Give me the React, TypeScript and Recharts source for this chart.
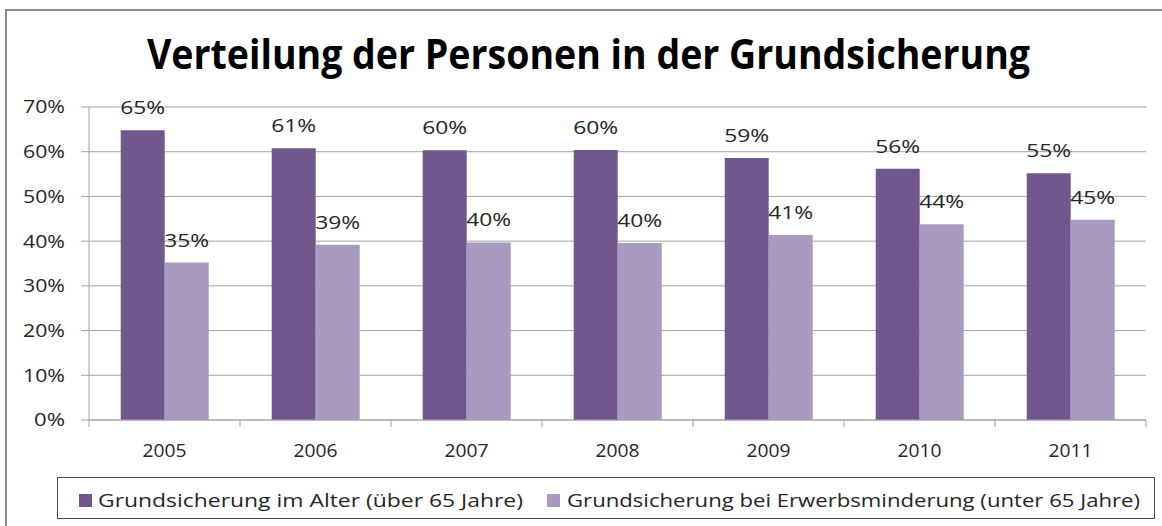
import React from 'react';
import { BarChart, Bar, XAxis, YAxis, CartesianGrid, LabelList, Legend } from 'recharts';

const title = 'Verteilung der Personen in der Grundsicherung';
const years = ['2005', '2006', '2007', '2008', '2009', '2010', '2011'];
const alterValues = [64.8, 60.8, 60.3, 60.4, 58.6, 56.2, 55.2];
const erwerbValues = [35.2, 39.2, 39.7, 39.6, 41.4, 43.8, 44.8];
const seriesNames = [
  'Grundsicherung im Alter (über 65 Jahre)',
  'Grundsicherung bei Erwerbsminderung (unter 65 Jahre)',
];
const yTicks = [0, 10, 20, 30, 40, 50, 60, 70];

const colors = ['#70588F', '#A99BC0'];
const FONT = '"Open Sans", "Noto Sans", sans-serif';
const TEXT = '#262626';
const GRID = '#a3a3a3';
const X_TICK_SIZE = 7;
const X_TICK_MARGIN = 17;

const data = years.map((y, i) => ({ year: y, alter: alterValues[i], erwerb: erwerbValues[i] }));

const charWidth = (s: string, digit: number, pct: number) =>
  s.split('').reduce((a, c) => a + (c === '%' ? pct : digit), 0);

const YTick = (props: any) => {
  const { x, y, payload } = props;
  const s = `${payload.value}%`;
  return (
    <text x={x} y={y} dy="0.36em" textAnchor="end" fontFamily={FONT} fontSize={18} fill={TEXT}
      textLength={charWidth(s, 11, 20)} lengthAdjust="spacingAndGlyphs">
      {s}
    </text>
  );
};

const XTick = (props: any) => {
  const { x, y, payload } = props;
  const s = String(payload.value);
  const half = payload.offset || 0;
  const axisY = y - X_TICK_SIZE - X_TICK_MARGIN;
  const isLast = payload.index === years.length - 1;
  return (
    <g>
      <line x1={x - half} x2={x - half} y1={axisY} y2={axisY + X_TICK_SIZE} stroke={GRID} />
      {isLast && (
        <line x1={x + half} x2={x + half} y1={axisY} y2={axisY + X_TICK_SIZE} stroke={GRID} />
      )}
      <text x={x} y={y} dy="0.71em" textAnchor="middle" fontFamily={FONT} fontSize={18} fill={TEXT}
        textLength={charWidth(s, 11, 20)} lengthAdjust="spacingAndGlyphs">
        {s}
      </text>
    </g>
  );
};

const BarLabel = (props: any) => {
  const { x, y, width, value } = props;
  const s = `${Math.round(value)}%`;
  return (
    <text x={x + width / 2} y={y - 16} textAnchor="middle" fontFamily={FONT} fontSize={18} fill={TEXT}
      textLength={charWidth(s, 11.5, 22)} lengthAdjust="spacingAndGlyphs">
      {s}
    </text>
  );
};

const legendLayout = [
  { sq: 22, tx: 41, len: 425 },
  { sq: 490, tx: 510, len: 573 },
];

const renderLegend = () => (
  <svg width={1098} height={42} style={{ display: 'block' }}>
    <rect x={0.5} y={0.5} width={1097} height={41} fill="#fff" stroke="#4a4a4a" strokeWidth={1} />
    {seriesNames.map((name, i) => (
      <g key={name}>
        <rect x={legendLayout[i].sq} y={17} width={13} height={13} fill={colors[i]} />
        <text x={legendLayout[i].tx} y={30} fontFamily={FONT} fontSize={17.5} fill={TEXT}
          textLength={legendLayout[i].len} lengthAdjust="spacingAndGlyphs">
          {name}
        </text>
      </g>
    ))}
  </svg>
);

export default function App() {
  return (
    <div style={{ position: 'absolute', left: 0, top: 0, width: 1162, height: 526, overflow: 'hidden', background: '#fff' }}>
      <div style={{
        position: 'absolute', left: 5, top: 9, width: 1200, height: 600,
        borderTop: '2px solid #8a8a8a', borderLeft: '2px solid #8a8a8a', boxSizing: 'border-box',
      }} />
      <svg width={1162} height={90} style={{ position: 'absolute', left: 0, top: 0 }}>
        <text x={147} y={69} fontFamily={FONT} fontWeight={700} fontSize={41} fill="#000"
          textLength={883} lengthAdjust="spacingAndGlyphs">
          {title}
        </text>
      </svg>
      <div style={{ position: 'absolute', left: 0, top: 0 }}>
        <BarChart width={1162} height={526} data={data}
          margin={{ top: 107, right: 16, left: 0, bottom: 0 }}
          barCategoryGap="21%" barGap={0}>
          <XAxis dataKey="year" height={106} tick={<XTick />}
            axisLine={{ stroke: GRID }} tickLine={false} tickSize={X_TICK_SIZE} tickMargin={X_TICK_MARGIN} />
          <YAxis domain={[0, 70]} ticks={yTicks} width={89} tick={<YTick />}
            axisLine={{ stroke: GRID }} tickLine={{ stroke: GRID }} tickSize={8} tickMargin={16} />
          <CartesianGrid vertical={false} stroke={GRID} />
          <Legend layout="horizontal" verticalAlign="middle" align="center" content={renderLegend}
            wrapperStyle={{ position: 'absolute', left: 57, top: 477, width: 1098, height: 42 }} />
          <Bar dataKey="alter" name={seriesNames[0]} fill={colors[0]} isAnimationActive={false}>
            <LabelList dataKey="alter" content={<BarLabel />} />
          </Bar>
          <Bar dataKey="erwerb" name={seriesNames[1]} fill={colors[1]} isAnimationActive={false}>
            <LabelList dataKey="erwerb" content={<BarLabel />} />
          </Bar>
        </BarChart>
      </div>
    </div>
  );
}
